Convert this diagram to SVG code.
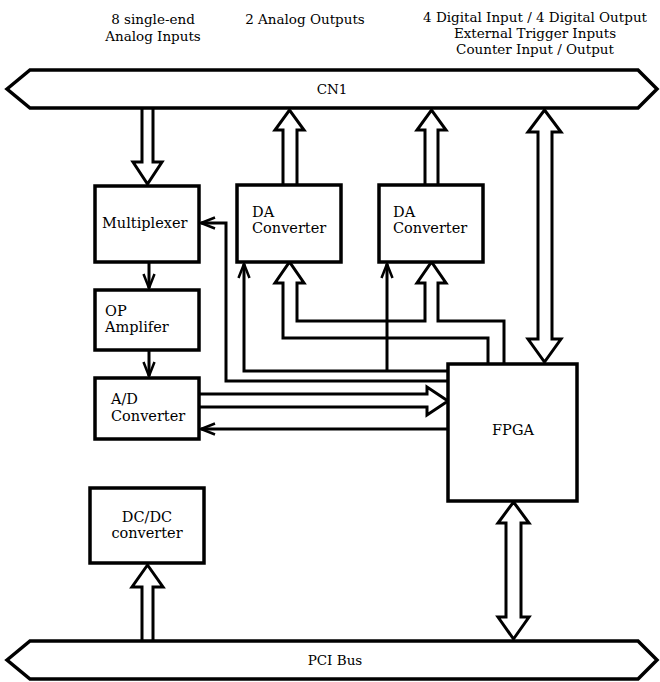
<svg xmlns="http://www.w3.org/2000/svg" width="660" height="682" viewBox="0 0 660 682">
<style>
.bx{fill:#fff;stroke:#000;stroke-width:3.5}
.bus{fill:#fff;stroke:#000;stroke-width:3.5;stroke-linejoin:miter}
.th{fill:#fff;stroke:#000;stroke-width:3}
.ln{fill:none;stroke:#000;stroke-width:3}
.t{font-family:"DejaVu Serif","Liberation Serif",serif;font-size:14.5px;fill:#000}
.tl{font-family:"DejaVu Serif","Liberation Serif",serif;font-size:13.5px;fill:#000}
</style>
<defs>
<marker id="ah" markerUnits="userSpaceOnUse" markerWidth="20" markerHeight="20" refX="0" refY="0" viewBox="-16 -8 20 16" orient="auto" overflow="visible">
<path d="M-14,-5.5 L0,0 L-14,5.5" fill="none" stroke="#000" stroke-width="2.5"/>
</marker>
</defs>
<g id="labels">
<text class="tl" x="153" y="24" text-anchor="middle">8 single-end</text>
<text class="tl" x="153" y="41" text-anchor="middle">Analog Inputs</text>
<text class="tl" x="305" y="24" text-anchor="middle">2 Analog Outputs</text>
<text class="tl" x="535" y="22" text-anchor="middle">4 Digital Input / 4 Digital Output</text>
<text class="tl" x="535" y="38" text-anchor="middle">External Trigger Inputs</text>
<text class="tl" x="535" y="54" text-anchor="middle">Counter Input / Output</text>
</g>
<g id="connectors">
<path class="th" d="M142,108 V162 H133 L147.5,184 L162,162 H153 V108"/>
<path class="th" d="M283,186 V130 H275 L289.5,110 L304,130 H297 V186"/>
<path class="th" d="M425,186 V130 H417 L431.5,110 L446,130 H438 V186"/>
<path class="th" d="M544.5,110 L561,132 H552 V339 H561 L544.5,362 L528,339 H538 V132 H528 Z"/>
<path class="ln" d="M488,364 V338 H283 V283 H275 L289.5,262 L304,283 H297 V321 H425 V283 H417 L431.5,262 L446,283 H438 V321 H504 V364"/>
<path class="ln" d="M448,371 H244 V264" marker-end="url(#ah)"/>
<path class="ln" d="M387,371 V264" marker-end="url(#ah)"/>
<path class="ln" d="M448,381 H226 V223 H201" marker-end="url(#ah)"/>
<path class="ln" d="M149,262 V288" marker-end="url(#ah)"/>
<path class="ln" d="M149,350 V376" marker-end="url(#ah)"/>
<path class="th" d="M199,394 H427 V387 L448,401 L427,415 V407 H199"/>
<path class="ln" d="M448,429 H201" marker-end="url(#ah)"/>
<path class="th" d="M513.5,502 L529,523 H521 V617 H529 L513.5,639 L498,617 H506 V523 H498 Z"/>
<path class="th" d="M142,641 V587 H132 L147.5,565 L163,587 H153 V641"/>
</g>
<g id="cn1">
<polygon class="bus" points="7,89 30,70 638,70 657,89 638,108 30,108"/>
<text class="tl" x="332" y="94" text-anchor="middle">CN1</text>
</g>
<g id="pci">
<polygon class="bus" points="7,660 30,641 638,641 657,660 638,679 30,679"/>
<text class="tl" x="335" y="665" text-anchor="middle">PCI Bus</text>
</g>
<g id="mux">
<rect class="bx" x="95" y="186" width="104" height="76"/>
<text class="t" x="102" y="228">Multiplexer</text>
</g>
<g id="da1">
<rect class="bx" x="237" y="185" width="104" height="77"/>
<text class="t" x="252" y="217">DA</text>
<text class="t" x="252" y="233">Converter</text>
</g>
<g id="da2">
<rect class="bx" x="379" y="185" width="104" height="77"/>
<text class="t" x="393" y="217">DA</text>
<text class="t" x="393" y="233">Converter</text>
</g>
<g id="op">
<rect class="bx" x="95" y="290" width="104" height="60"/>
<text class="t" x="105" y="316">OP</text>
<text class="t" x="105" y="332">Amplifer</text>
</g>
<g id="adc">
<rect class="bx" x="95" y="378" width="104" height="61"/>
<text class="t" x="111" y="404">A/D</text>
<text class="t" x="111" y="421">Converter</text>
</g>
<g id="fpga">
<rect class="bx" x="448" y="364" width="129" height="137"/>
<text class="t" x="513" y="435" text-anchor="middle">FPGA</text>
</g>
<g id="dcdc">
<rect class="bx" x="90" y="488" width="114" height="75"/>
<text class="t" x="147" y="522" text-anchor="middle">DC/DC</text>
<text class="t" x="147" y="538" text-anchor="middle">converter</text>
</g>
</svg>
